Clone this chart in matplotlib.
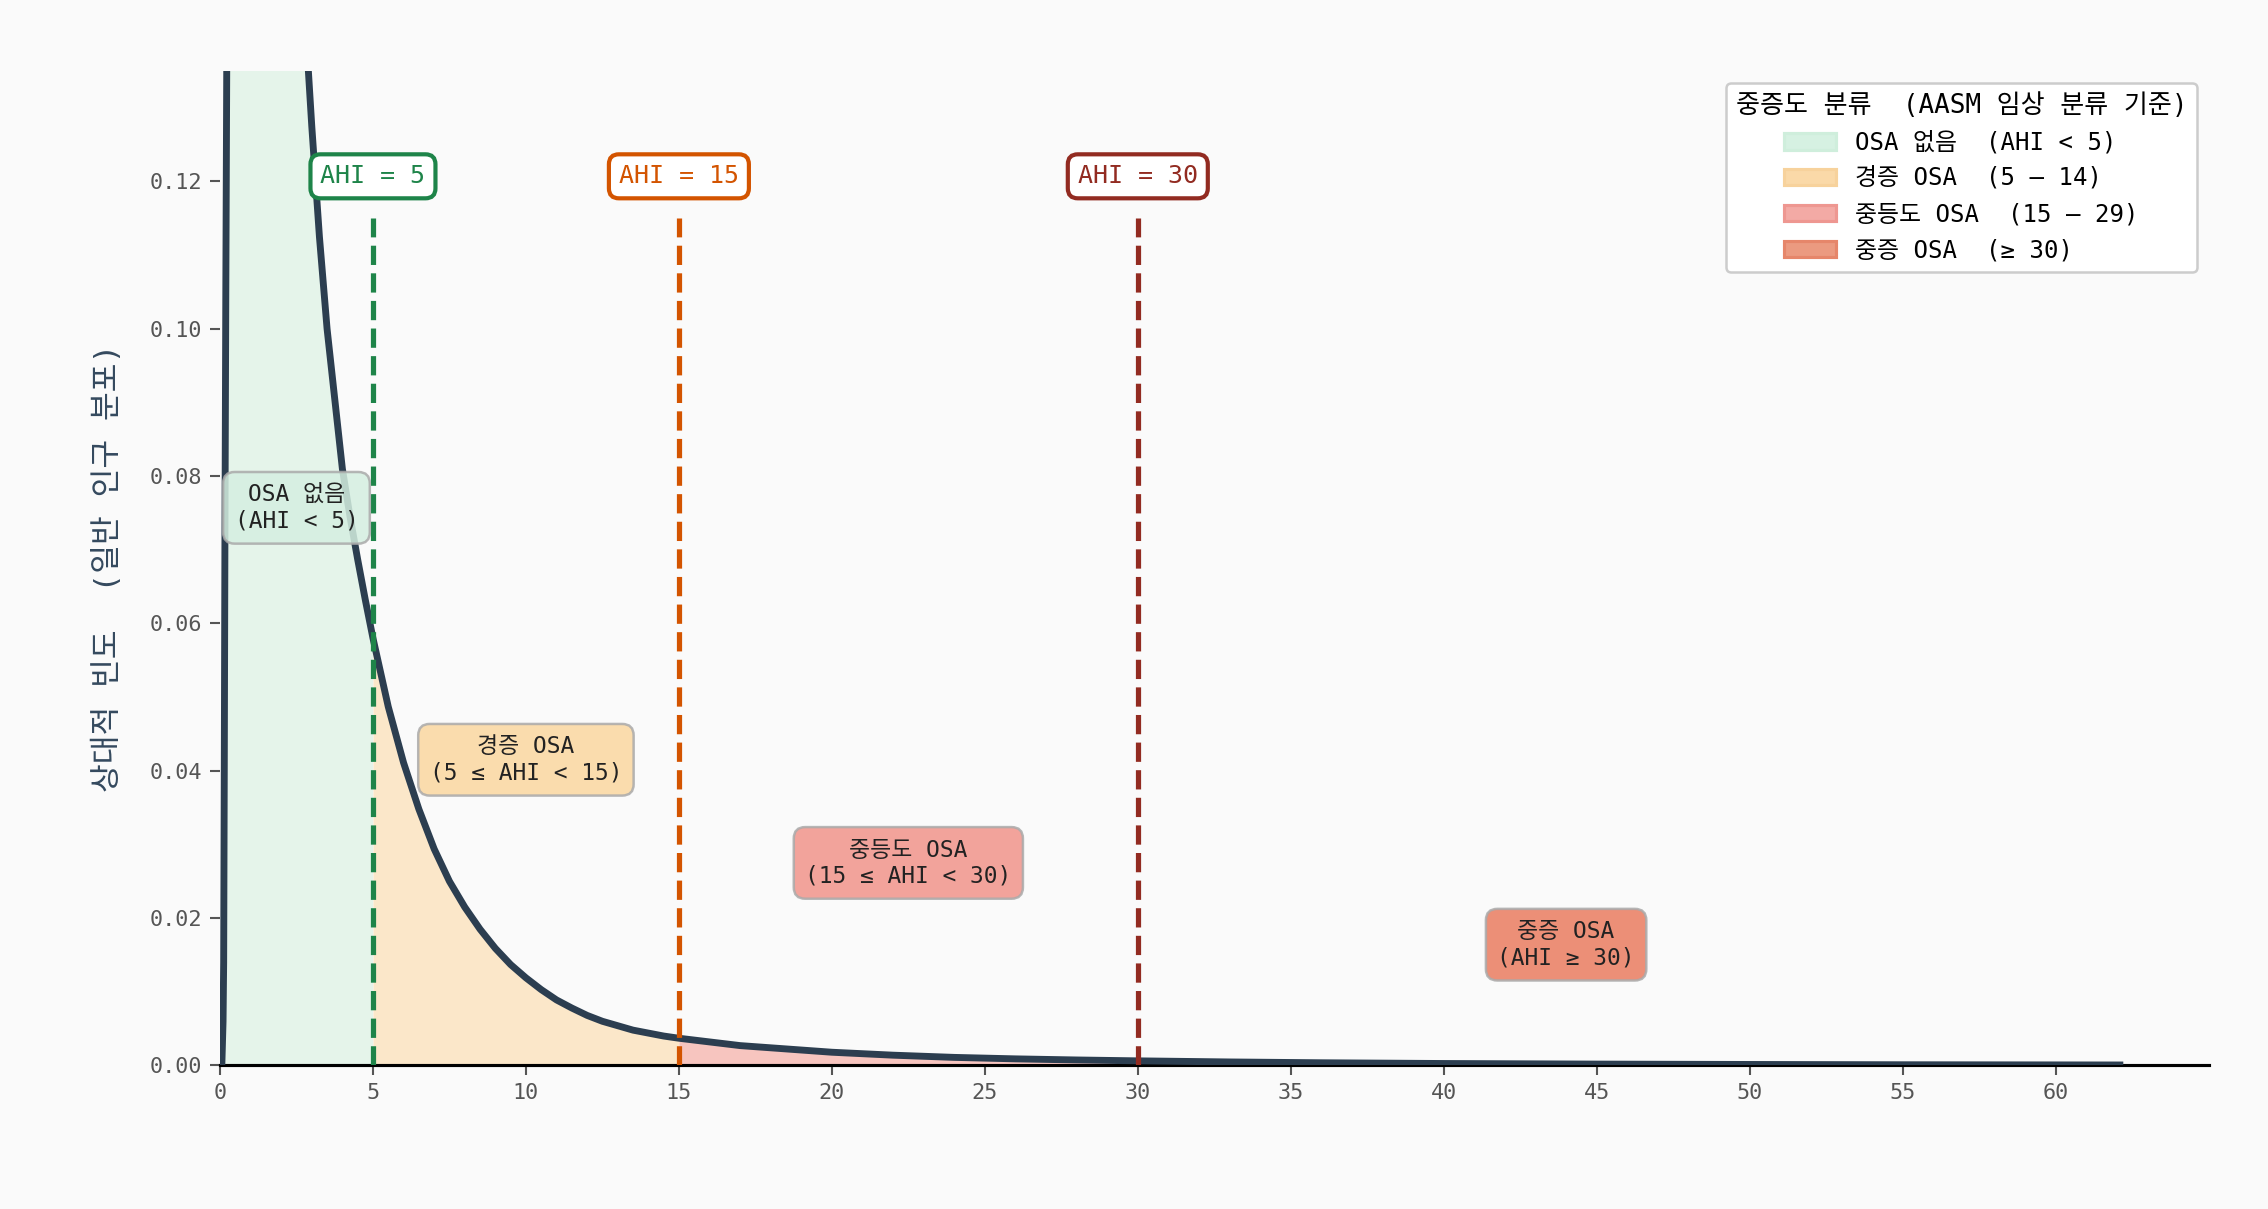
import matplotlib
matplotlib.use('Agg')
from matplotlib import pyplot as plt
from matplotlib.patches import Patch
import numpy as np

plt.rcParams['font.family'] = ['DejaVu Sans Mono', 'Noto Sans CJK KR']

# AHI values and relative frequency
ahi = [0.06, 0.1, 0.12, 0.14, 0.16, 0.19, 0.22, 0.5, 1.0, 1.6, 2.2, 2.6,
       2.8, 3.0, 3.25, 3.5, 3.75, 4.0, 4.25, 4.5, 4.75, 5.0, 5.5, 6.0, 6.5,
       7.0, 7.5, 8.0, 8.5, 9.0, 9.5, 10.0, 10.5, 11.0, 11.5, 12.0, 12.5,
       13.0, 13.5, 14.0, 14.5, 15.0, 16.0, 17.0, 18.0, 19.0, 20.0, 22.0,
       24.0, 26.0, 28.0, 30.0, 33.0, 36.0, 40.0, 45.0, 50.0, 55.0, 60.0,
       62.1]
density = [0.0, 0.006, 0.014, 0.04, 0.07, 0.105, 0.135, 0.24, 0.29, 0.25,
           0.19, 0.156, 0.141, 0.1275, 0.1125, 0.100, 0.0905, 0.081, 0.0745,
           0.0687, 0.0632, 0.058, 0.0487, 0.0411, 0.0348, 0.0294, 0.0250,
           0.0215, 0.0185, 0.0159, 0.0137, 0.0119, 0.0103, 0.0089, 0.0078,
           0.0068, 0.0060, 0.0054, 0.0048, 0.0044, 0.0040, 0.0037, 0.0032,
           0.0027, 0.0024, 0.0021, 0.0018, 0.0014, 0.0011, 0.0009, 0.00075,
           0.00063, 0.00048, 0.00037, 0.00027, 0.00019, 0.00014, 0.0001,
           0.00008, 0.00007]

cutoffs = [5, 15, 30]
cutoff_colors = ['#1e8449', '#d35400', '#922b21']
cutoff_labels = ['AHI = 5', 'AHI = 15', 'AHI = 30']

bounds = [(0, 5), (5, 15), (15, 30), (30, 70)]
fill_colors = ['#e5f4ea', '#fbe7c9', '#f7c5bf', '#f0a58f']
legend_colors = ['#d6f1e2', '#fad9a8', '#f3aaa5', '#eb9a80']
legend_edges = ['#cfeedc', '#f7d29c', '#ee9791', '#e6866a']
legend_labels = ['OSA 없음  (AHI < 5)', '경증 OSA  (5 – 14)',
                 '중등도 OSA  (15 – 29)', '중증 OSA  (≥ 30)']

box_texts = ['OSA 없음\n(AHI < 5)', '경증 OSA\n(5 ≤ AHI < 15)',
             '중등도 OSA\n(15 ≤ AHI < 30)', '중증 OSA\n(AHI ≥ 30)']
box_x = [2.5, 10.0, 22.5, 44.0]
box_y = [0.0757, 0.0415, 0.0275, 0.0164]
box_colors = ['#d5efe1', '#fad7a0', '#f1948a', '#ea7d60']

x = np.array(ahi)
y = np.array(density)

fig = plt.figure(figsize=(15.12, 8.06), dpi=150, facecolor='#fafafa')
ax = fig.add_axes([0.097, 0.1187, 0.8768, 0.8226])
ax.set_facecolor('#fafafa')

# severity regions under the curve
for (lo, hi), c in zip(bounds, fill_colors):
    m = (x >= lo) & (x <= hi)
    ax.fill_between(x[m], 0, y[m], color=c, lw=0, zorder=2)

ax.plot(x, y, color='#2c3e50', lw=3.3, zorder=4, solid_joinstyle='round')

# cutoff lines
for cx, c, lab in zip(cutoffs, cutoff_colors, cutoff_labels):
    ax.plot([cx, cx], [0, 0.115], color=c, lw=2.5, ls='--', zorder=5)
    ax.text(cx, 0.1207, lab, color=c, fontsize=12, ha='center', va='center',
            zorder=7,
            bbox=dict(boxstyle='round,pad=0.4', fc='white', ec=c, lw=2))

# region labels
for t, bx, by, c in zip(box_texts, box_x, box_y, box_colors):
    ax.text(bx, by, t, fontsize=11, ha='center', va='center', color='#222222',
            zorder=6, linespacing=1.15,
            bbox=dict(boxstyle='round,pad=0.5', fc=c, ec='#aaaaaa', lw=1.2,
                      alpha=0.85))

ax.set_xlim(0, 65)
ax.set_ylim(0, 0.135)
ax.set_xticks(np.arange(0, 61, 5))
ax.set_yticks(np.arange(0, 0.121, 0.02))
ax.yaxis.set_major_formatter(plt.FormatStrFormatter('%.2f'))
ax.tick_params(colors='#555555', labelsize=10.5, length=5, width=1)

for s in ['top', 'right', 'left']:
    ax.spines[s].set_visible(False)
ax.spines['bottom'].set_color('black')
ax.spines['bottom'].set_linewidth(1.5)

ax.set_ylabel('상대적 빈도  (일반 인구 분포)', fontsize=15, color='#34495e',
              labelpad=13)

handles = [Patch(facecolor=fc, edgecolor=ec, lw=1.5)
           for fc, ec in zip(legend_colors, legend_edges)]
leg = ax.legend(handles, legend_labels, title='중증도 분류  (AASM 임상 분류 기준)',
                loc='upper right', fontsize=11.5, title_fontsize=12.5,
                labelspacing=0.5, handlelength=2.2,
                frameon=True, fancybox=True, edgecolor='#cccccc',
                facecolor='white', framealpha=1)
leg.get_frame().set_linewidth(1.2)

plt.savefig('out.png', dpi=150, facecolor='#fafafa')
